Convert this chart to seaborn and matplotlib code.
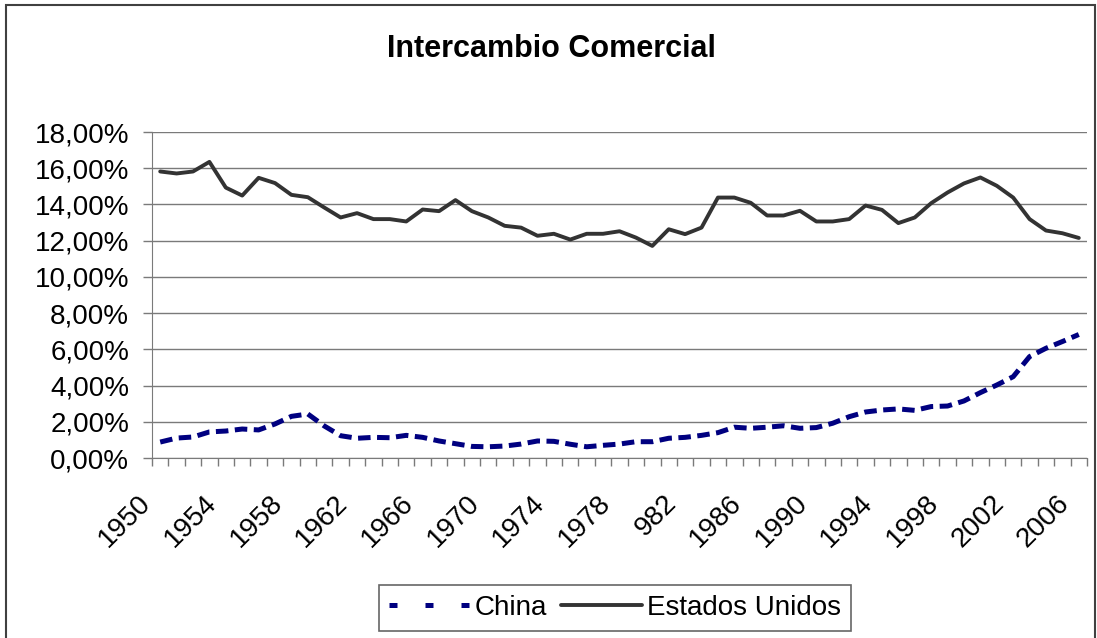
import matplotlib
matplotlib.use("Agg")
import matplotlib.pyplot as plt
import matplotlib.transforms as mtransforms
from matplotlib.lines import Line2D
from matplotlib.patches import Rectangle
from matplotlib.ticker import FuncFormatter, FixedLocator
import seaborn as sns
import pandas as pd

# datos (porcentaje del intercambio comercial)
years = list(range(1950, 2007))
china = [0.88, 1.10, 1.16, 1.44, 1.49, 1.60, 1.55, 1.88, 2.30, 2.43,
         1.77, 1.23, 1.09, 1.14, 1.12, 1.25, 1.14, 0.94, 0.79, 0.64,
         0.62, 0.66, 0.77, 0.94, 0.92, 0.76, 0.62, 0.70, 0.77, 0.90,
         0.90, 1.09, 1.14, 1.25, 1.40, 1.70, 1.64, 1.70, 1.78, 1.64,
         1.68, 1.92, 2.28, 2.54, 2.65, 2.71, 2.63, 2.84, 2.87, 3.15,
         3.61, 4.03, 4.49, 5.60, 6.06, 6.43, 6.82]
estados_unidos = [15.82, 15.71, 15.82, 16.35, 14.93, 14.49, 15.47, 15.18, 14.53, 14.40,
                  13.83, 13.28, 13.52, 13.19, 13.19, 13.06, 13.72, 13.63, 14.24, 13.63,
                  13.28, 12.82, 12.72, 12.27, 12.38, 12.06, 12.38, 12.38, 12.52, 12.17,
                  11.71, 12.63, 12.36, 12.72, 14.38, 14.38, 14.09, 13.39, 13.39, 13.65,
                  13.06, 13.06, 13.19, 13.94, 13.70, 12.97, 13.28, 14.07, 14.66, 15.16,
                  15.49, 15.03, 14.38, 13.19, 12.56, 12.41, 12.15]
tick_years = list(range(1950, 2007, 4))
tick_labels = ["1950", "1954", "1958", "1962", "1966", "1970", "1974", "1978",
               "982", "1986", "1990", "1994", "1998", "2002", "2006"]
series_names = ["China", "Estados Unidos"]
y_ticks = [0, 2, 4, 6, 8, 10, 12, 14, 16, 18]

df = pd.DataFrame({
    "Año": years * 2,
    "Valor": china + estados_unidos,
    "Serie": ["China"] * len(years) + ["Estados Unidos"] * len(years),
})

sns.set_style("white")
plt.rcParams["font.family"] = ["Liberation Sans", "DejaVu Sans"]
plt.rcParams["text.color"] = "black"
plt.rcParams["xtick.color"] = "black"
plt.rcParams["ytick.color"] = "black"

W, H = 1097, 638
fig = plt.figure(figsize=(W / 100, H / 100), dpi=100)
ax = fig.add_axes([152 / W, 1 - 458 / H, (1087 - 152) / W, (458 - 132) / H])

colors = {"China": "#000080", "Estados Unidos": "#333333"}
sns.lineplot(data=df, x="Año", y="Valor", hue="Serie", style="Serie",
             palette=colors, dashes={"China": (2.5, 1.3), "Estados Unidos": ""},
             legend=False, ax=ax)
for line in ax.get_lines():
    if line.get_color() == "#000080":
        line.set_linewidth(3.6)
        line.set_dash_capstyle("butt")
    else:
        line.set_linewidth(2.8)

ax.set_xlim(1949.5, 2006.5)
ax.set_ylim(0, 18)
ax.set_xlabel("")
ax.set_ylabel("")

ax.yaxis.set_major_locator(FixedLocator(y_ticks))
ax.yaxis.set_major_formatter(FuncFormatter(lambda v, p: f"{v:.2f}".replace(".", ",") + "%"))
ax.grid(axis="y", color="#7a7a7a", linewidth=1.0)
ax.set_axisbelow(True)

ax.set_xticks(tick_years)
ax.set_xticklabels(tick_labels)
ax.xaxis.set_minor_locator(FixedLocator([y - 0.5 for y in years] + [years[-1] + 0.5]))

ax.tick_params(axis="y", which="major", direction="out", length=6.5, width=1,
               color="#7a7a7a", labelcolor="black", pad=10, labelsize=20, left=True)
ax.tick_params(axis="x", which="major", length=0, pad=30, labelsize=20,
               labelcolor="black")
ax.tick_params(axis="x", which="minor", direction="out", length=5.8, width=1,
               color="#7a7a7a", bottom=True)

for side in ["top", "right"]:
    ax.spines[side].set_visible(False)
ax.spines["left"].set_color("#7a7a7a")
ax.spines["bottom"].set_color("#7a7a7a")

offset = mtransforms.ScaledTranslation(-13 / 100, 0, fig.dpi_scale_trans)
for lab in ax.get_xticklabels():
    lab.set_rotation(45)
    lab.set_rotation_mode("anchor")
    lab.set_ha("right")
    lab.set_va("center")
    lab.set_transform(lab.get_transform() + offset)

fig.text(551 / W, 1 - 57 / H, "Intercambio Comercial", fontsize=22,
         fontweight="bold", ha="center", va="baseline", color="black")

handles = [
    Line2D([], [], color=colors["China"], linewidth=3.6, dashes=(1.6, 5.6),
           dash_capstyle="butt"),
    Line2D([], [], color=colors["Estados Unidos"], linewidth=2.8),
]
leg = fig.legend(handles, series_names, loc="center", bbox_to_anchor=(615 / W, 1 - 608 / H),
                 ncol=2, fontsize=20, frameon=True, fancybox=False, handlelength=2.9,
                 handletextpad=0.2, columnspacing=0.5, borderpad=0.35)
leg.get_frame().set_edgecolor("#404040")
leg.get_frame().set_linewidth(1.2)

fig.add_artist(Rectangle((6 / W, -0.05), (1095 - 6) / W, 1.05 - 5 / H,
                         transform=fig.transFigure, fill=False,
                         edgecolor="#404040", linewidth=1.5))

fig.savefig("out.png", dpi=100)
